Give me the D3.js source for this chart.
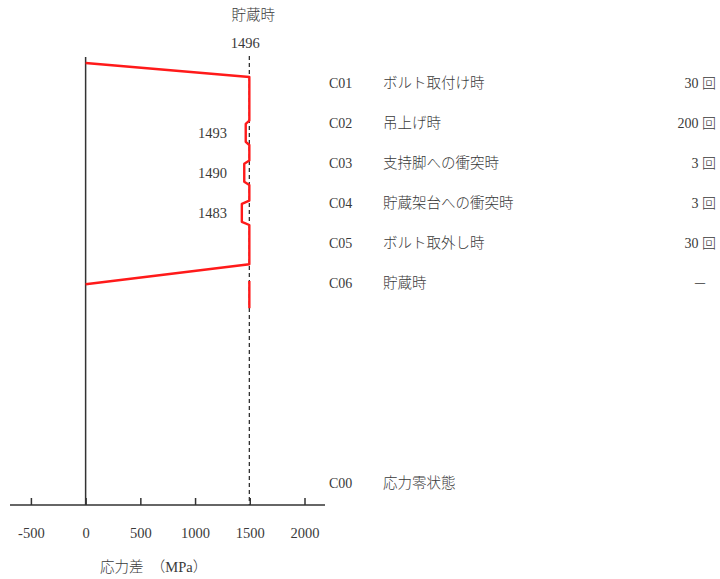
<!DOCTYPE html>
<html lang="ja">
<head>
  <meta charset="utf-8">
  <title>応力差の履歴</title>
  <script src="https://d3js.org/d3.v7.min.js"></script>
  <style>
    body { margin: 0; background: #fff; }
    text { font-family: "Liberation Serif", "Noto Sans CJK JP", serif; fill: #3a3a3a; font-weight: 300; }
  </style>
</head>
<body>
<script>
// data
var codes   = ["C01", "C02", "C03", "C04", "C05", "C06"];
var events  = ["ボルト取付け時", "吊上げ時", "支持脚への衝突時", "貯蔵架台への衝突時", "ボルト取外し時", "貯蔵時"];
var cycles  = ["30 回", "200 回", "3 回", "3 回", "30 回", "－"];
var zeroCode = "C00", zeroEvent = "応力零状態";
var storageStress = 1496;            // 貯蔵時
var dipValues = [1493, 1490, 1483];  // C02, C03, C04
var xTicks = [-500, 0, 500, 1000, 1500, 2000];

var width = 720, height = 579;
var svg = d3.select("body").append("svg")
    .attr("width", width)
    .attr("height", height);

var x = d3.scaleLinear().domain([-500, 2000]).range([30.9, 304.5]);
// row scale: C01 = 0 ... C06 = 5, C00 = 10
var y = d3.scaleLinear().domain([0, 10]).range([83, 483]);
// dips are drawn exaggerated (not to scale), like the original
var dip = d3.scaleSqrt().domain([0, 13]).range([0, 7.5]);

var axisY = 505;

// axis
svg.append("line")
    .attr("x1", 10).attr("x2", 325)
    .attr("y1", axisY).attr("y2", axisY)
    .attr("stroke", "#333").attr("stroke-width", 1.5);

var axis = svg.append("g")
    .attr("transform", "translate(0," + axisY + ")")
    .call(d3.axisBottom(x).tickValues(xTicks).tickSize(-7).tickPadding(23)
        .tickFormat(function(d) { return d; }));
axis.select(".domain").remove();
axis.selectAll(".tick line").attr("stroke", "#333").attr("stroke-width", 1.5);
axis.selectAll(".tick text")
    .attr("fill", "#3a3a3a")
    .style("font-size", "14.5px")
    .attr("font-family", null);

svg.append("text")
    .attr("x", 100).attr("y", 567).attr("dy", "0.35em")
    .style("font-size", "14.5px")
    .text("応力差　（MPa）");

// vertical line at 0
svg.append("line")
    .attr("x1", x(0)).attr("x2", x(0))
    .attr("y1", 57).attr("y2", axisY)
    .attr("stroke", "#333").attr("stroke-width", 1.5);

// dashed line at storage stress
svg.append("line")
    .attr("x1", x(storageStress)).attr("x2", x(storageStress))
    .attr("y1", 56).attr("y2", axisY)
    .attr("stroke", "#333").attr("stroke-width", 1.3)
    .attr("stroke-dasharray", "4,3");

svg.append("text")
    .attr("x", x(storageStress) + 4).attr("y", 15).attr("dy", "0.35em")
    .attr("text-anchor", "middle").style("font-size", "14.5px")
    .text(events[5]);
svg.append("text")
    .attr("x", x(storageStress) - 4).attr("y", 43).attr("dy", "0.35em")
    .attr("text-anchor", "middle").style("font-size", "14.5px")
    .text(storageStress);

// stress history path
var pts = [];
pts.push([x(0), y(-0.5)]);
pts.push([x(storageStress), y(-0.15)]);
dipValues.forEach(function(v, i) {
  var r = i + 1;
  var dx = x(storageStress) - dip(storageStress - v);
  pts.push([x(storageStress), y(r - 0.06)]);
  pts.push([dx, y(r + 0.02)]);
  pts.push([dx, y(r + 0.47)]);
  pts.push([x(storageStress), y(r + 0.55)]);
});
pts.push([x(storageStress), y(4.53)]);
pts.push([x(0), y(5.03)]);

svg.append("path")
    .attr("d", d3.line()(pts))
    .attr("fill", "none")
    .attr("stroke", "#ff1a1a")
    .attr("stroke-width", 2.4)
    .attr("stroke-linejoin", "round");

// storage segment (C06)
svg.append("line")
    .attr("x1", x(storageStress)).attr("x2", x(storageStress))
    .attr("y1", y(4.95)).attr("y2", y(5.63))
    .attr("stroke", "#ff1a1a").attr("stroke-width", 2.4);

// dip labels
svg.selectAll(".diplabel")
    .data(dipValues)
    .enter().append("text")
    .attr("class", "diplabel")
    .attr("x", 227)
    .attr("y", function(d, i) { return y(i + 1.25); })
    .attr("dy", "0.35em")
    .attr("text-anchor", "end")
    .style("font-size", "14.5px")
    .text(function(d) { return d; });

// legend rows
var rows = svg.selectAll(".row")
    .data(codes)
    .enter().append("g")
    .attr("class", "row")
    .attr("transform", function(d, i) { return "translate(0," + y(i) + ")"; });

rows.append("text")
    .attr("x", 329).attr("dy", "0.35em")
    .style("font-size", "14px")
    .text(function(d) { return d; });
rows.append("text")
    .attr("x", 383).attr("dy", "0.35em")
    .style("font-size", "14.5px")
    .text(function(d, i) { return events[i]; });
rows.append("text")
    .attr("x", function(d, i) { return cycles[i] === "－" ? 700 : 716; })
    .attr("text-anchor", function(d, i) { return cycles[i] === "－" ? "middle" : "end"; })
    .attr("dy", "0.35em")
    .style("font-size", "14px")
    .text(function(d, i) { return cycles[i]; });

svg.append("text")
    .attr("x", 329).attr("y", y(10)).attr("dy", "0.35em")
    .style("font-size", "14px")
    .text(zeroCode);
svg.append("text")
    .attr("x", 383).attr("y", y(10)).attr("dy", "0.35em")
    .style("font-size", "14.5px")
    .text(zeroEvent);
</script>
</body>
</html>
